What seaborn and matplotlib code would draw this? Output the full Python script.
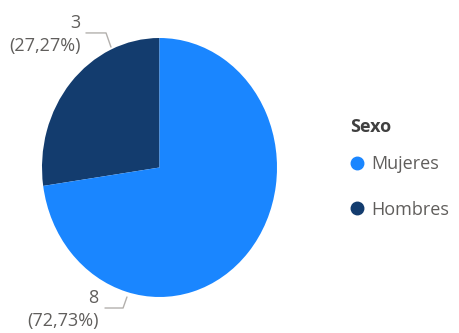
import numpy as np
import matplotlib
matplotlib.use("Agg")
import matplotlib.pyplot as plt
import seaborn as sns
from matplotlib.lines import Line2D

# datos
categorias = ["Mujeres", "Hombres"]
valores = [8, 3]
colores = ["#1A86FF", "#133C6E"]
titulo_leyenda = "Sexo"

sns.set_theme(style="white")
plt.rcParams['font.family'] = ['Open Sans', 'DejaVu Sans']

W, H = 459, 333
fig = plt.figure(figsize=(W / 100, H / 100), dpi=100)
# caja del pie en pixeles (elipse, como en la referencia)
x0, x1, y0, y1 = 42, 277, 38, 297
ax = fig.add_axes([x0 / W, 1 - y1 / H, (x1 - x0) / W, (y1 - y0) / H])

# Hombres arranca a las 12 y va en sentido antihorario, Mujeres sigue
orden = [1, 0]
ax.pie([valores[i] for i in orden], colors=[colores[i] for i in orden],
       startangle=90, counterclock=True, radius=1,
       wedgeprops=dict(linewidth=0))
ax.set_aspect('auto')
ax.set_xlim(-1, 1)
ax.set_ylim(-1, 1)
ax.axis('off')

total = sum(valores)
gris = "#605E5C"


def etiqueta(v):
    pct = f"{v / total * 100:.2f}".replace(".", ",")
    return f"{v}\n({pct}%)"


# posiciones de las etiquetas (borde, codo, fin de linea, texto)
guias = {
    "Hombres": dict(borde=(-0.413, 0.93), codo=(-0.455, 1.039), fin=(-0.626, 1.039), txt=(-0.67, 1.03)),
    "Mujeres": dict(borde=(-0.277, -1.0), codo=(-0.31, -1.085), fin=(-0.464, -1.085), txt=(-0.52, -1.095)),
}
for cat, v in zip(categorias, valores):
    g = guias[cat]
    xs = [g["borde"][0], g["codo"][0], g["fin"][0]]
    ys = [g["borde"][1], g["codo"][1], g["fin"][1]]
    ax.plot(xs, ys, color="#B3B0AD", lw=1, clip_on=False)
    ax.text(g["txt"][0], g["txt"][1], etiqueta(v), ha="right", va="center",
            ma="right", fontsize=13, color=gris, linespacing=1.35, clip_on=False)

handles = [Line2D([0], [0], marker='o', linestyle='none', markersize=9,
                  markerfacecolor=c, markeredgecolor=c) for c in colores]
leg = fig.legend(handles, categorias, title=titulo_leyenda, loc="upper left",
                 bbox_to_anchor=(350 / W, 1 - 118 / H), frameon=False,
                 fontsize=13, handlelength=0.8, handletextpad=0.35,
                 labelspacing=1.5, borderpad=0, borderaxespad=0)
leg.get_title().set_fontweight("bold")
leg.get_title().set_fontsize(13)
leg.get_title().set_color("#404040")
leg._legend_box.align = "left"
leg._legend_box.sep = 14
for t in leg.get_texts():
    t.set_color(gris)

fig.savefig("out.png", dpi=100)
